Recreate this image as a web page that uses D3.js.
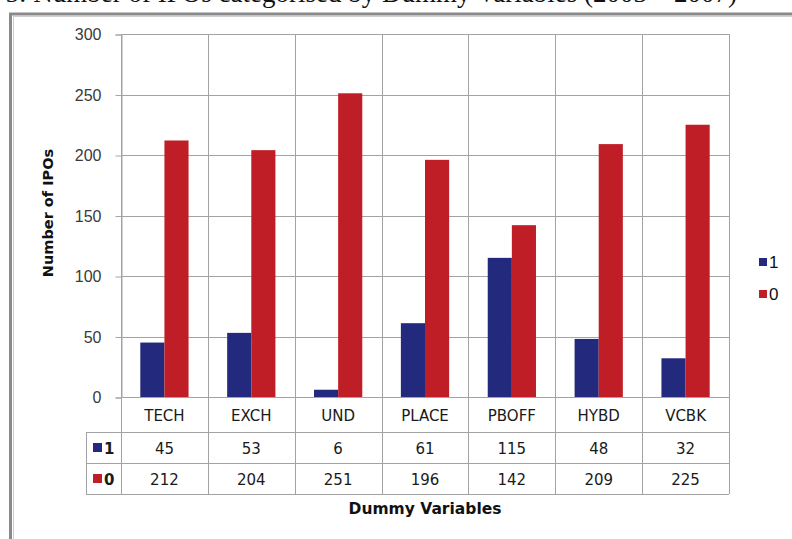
<!DOCTYPE html>
<html>
<head>
<meta charset="utf-8">
<script src="https://cdn.jsdelivr.net/npm/d3@7.9.0/dist/d3.min.js"></script>
<style>
  body { margin: 0; background: #fff; }
  svg { display: block; }
</style>
</head>
<body>
<svg width="792" height="539"></svg>
<script>
// data
const categories = ['TECH', 'EXCH', 'UND', 'PLACE', 'PBOFF', 'HYBD', 'VCBK'];
const seriesNames = ['1', '0'];
const values1 = [45, 53, 6, 61, 115, 48, 32];
const values0 = [212, 204, 251, 196, 142, 209, 225];
const yTicks = [0, 50, 100, 150, 200, 250, 300];
const colors = ['#232a7d', '#c01e27'];

const seriesValues = [values1, values0];

const svg = d3.select('svg');
const gridColor = '#a3a3a3';

// title, mostly cut off at the top of the picture
svg.append('text')
    .attr('x', 737).attr('y', 2)
    .attr('text-anchor', 'end')
    .attr('font-family', 'Liberation Serif')
    .attr('font-size', 27)
    .attr('fill', '#111')
    .text('Figure 5: Number of IPOs categorised by Dummy Variables (2003 \u2013 2007)');

// outer frame (runs off the right and bottom)
svg.append('rect')
    .attr('x', 10.5).attr('y', 14).attr('width', 800).attr('height', 560)
    .attr('fill', 'none').attr('stroke', '#8a8a8a').attr('stroke-width', 3);
svg.append('rect')
    .attr('x', 13.5).attr('y', 16.5).attr('width', 800).attr('height', 560)
    .attr('fill', 'none').attr('stroke', '#cfcfcf').attr('stroke-width', 1);

const x = d3.scaleBand().domain(categories).range([121, 729]);
const xs = d3.scaleBand().domain(seriesNames).range([0, x.bandwidth()])
    .paddingInner(0).paddingOuter(0.8);
const y = d3.scaleLinear().domain([0, 300]).range([397, 34]);

const rowTop = [397, 432, 463, 494];

// horizontal gridlines
svg.append('g').selectAll('line').data(yTicks).join('line')
    .attr('x1', 121).attr('x2', 729)
    .attr('y1', d => Math.round(y(d)) + 0.5).attr('y2', d => Math.round(y(d)) + 0.5)
    .attr('stroke', gridColor);

// vertical lines at category edges, through the table
const edges = categories.map(c => x(c)).concat([x.range()[1]]);
svg.append('g').selectAll('line').data(edges).join('line')
    .attr('x1', d => Math.round(d) + 0.5).attr('x2', d => Math.round(d) + 0.5)
    .attr('y1', 34).attr('y2', rowTop[3])
    .attr('stroke', gridColor);

// bars
seriesValues.forEach((vals, si) => {
    svg.append('g').selectAll('rect').data(vals).join('rect')
        .attr('x', (d, i) => x(categories[i]) + xs(seriesNames[si]))
        .attr('width', xs.bandwidth())
        .attr('y', d => y(d))
        .attr('height', d => y(0) - y(d))
        .attr('fill', colors[si]);
});

// y axis
const yAxis = svg.append('g')
    .attr('transform', 'translate(121.5,0.5)')
    .call(d3.axisLeft(y).tickValues(yTicks).tickSize(6).tickPadding(14));
yAxis.select('.domain').attr('stroke', gridColor);
yAxis.selectAll('.tick line').attr('stroke', gridColor);
yAxis.selectAll('.tick text')
    .attr('font-family', 'Liberation Sans')
    .attr('font-size', 16)
    .attr('fill', '#3a3a3a');

svg.append('text')
    .attr('transform', 'translate(53,213) rotate(-90)')
    .attr('text-anchor', 'middle')
    .attr('font-family', 'DejaVu Sans')
    .attr('font-weight', 'bold')
    .attr('font-size', 14.5)
    .attr('fill', '#111')
    .text('Number of IPOs');

// data table
const tbl = svg.append('g');
[rowTop[1], rowTop[2], rowTop[3]].forEach(ry => {
    tbl.append('line')
        .attr('x1', 86).attr('x2', 729)
        .attr('y1', ry + 0.5).attr('y2', ry + 0.5)
        .attr('stroke', gridColor);
});
tbl.append('line')
    .attr('x1', 86.5).attr('x2', 86.5)
    .attr('y1', rowTop[1]).attr('y2', rowTop[3])
    .attr('stroke', gridColor);

tbl.selectAll('text.cat').data(categories).join('text')
    .attr('class', 'cat')
    .attr('x', d => x(d) + x.bandwidth() / 2)
    .attr('y', (rowTop[0] + rowTop[1]) / 2 + 6)
    .attr('text-anchor', 'middle')
    .attr('font-family', 'DejaVu Sans')
    .attr('font-size', 15)
    .attr('fill', '#1a1a1a')
    .text(d => d);

seriesValues.forEach((vals, si) => {
    const cy = (rowTop[si + 1] + rowTop[si + 2]) / 2;
    tbl.append('g').selectAll('text').data(vals).join('text')
        .attr('x', (d, i) => x(categories[i]) + x.bandwidth() / 2)
        .attr('y', cy + 6)
        .attr('text-anchor', 'middle')
        .attr('font-family', 'DejaVu Sans')
        .attr('font-size', 15)
        .attr('fill', '#1a1a1a')
        .text(d => d);
    tbl.append('rect')
        .attr('x', 93).attr('y', cy - 4.5).attr('width', 9).attr('height', 9)
        .attr('fill', colors[si]);
    tbl.append('text')
        .attr('x', 104).attr('y', cy + 6)
        .attr('font-family', 'DejaVu Sans')
        .attr('font-weight', 'bold')
        .attr('font-size', 15)
        .attr('fill', '#1a1a1a')
        .text(seriesNames[si]);
});

svg.append('text')
    .attr('x', 425).attr('y', 514)
    .attr('text-anchor', 'middle')
    .attr('font-family', 'DejaVu Sans')
    .attr('font-weight', 'bold')
    .attr('font-size', 15.5)
    .attr('fill', '#111')
    .text('Dummy Variables');

// legend on the right
const legend = svg.append('g');
seriesNames.forEach((s, i) => {
    const ly = 262 + i * 32;
    legend.append('rect')
        .attr('x', 759).attr('y', ly - 4).attr('width', 8).attr('height', 8)
        .attr('fill', colors[i]);
    legend.append('text')
        .attr('x', 769).attr('y', ly + 6)
        .attr('font-family', 'Liberation Sans')
        .attr('font-size', 17)
        .attr('fill', '#111')
        .text(s);
});
</script>
</body>
</html>
